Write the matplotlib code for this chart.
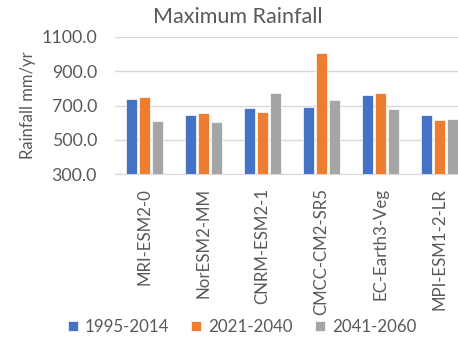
import matplotlib
matplotlib.use('Agg')
import matplotlib.pyplot as plt
import numpy as np

plt.rcParams['font.family'] = ['Lato', 'DejaVu Sans']

models = ['MRI-ESM2-0', 'NorESM2-MM', 'CNRM-ESM2-1', 'CMCC-CM2-SR5', 'EC-Earth3-Veg', 'MPI-ESM1-2-LR']
periods = ['1995-2014', '2021-2040', '2041-2060']
rain_1995_2014 = [735, 646, 688, 690, 760, 646]
rain_2021_2040 = [748, 654, 663, 1005, 775, 615]
rain_2041_2060 = [607, 605, 770, 731, 679, 621]
yticks = [300, 500, 700, 900, 1100]

colors = ['#4472C4', '#ED7D31', '#A5A5A5']
txt = '#595959'

fig = plt.figure(figsize=(4.58, 3.39), dpi=100)
# axes runs a bit past the right edge, like the cropped original
ax = fig.add_axes([115/458, (339-174.3)/339, 354/458, 137.6/339])

x = np.arange(len(models))
w = 0.178
step = 0.22
for i, (vals, c) in enumerate(zip([rain_1995_2014, rain_2021_2040, rain_2041_2060], colors)):
    ax.bar(x + (i-1)*step, np.array(vals) - 300, bottom=300, width=w, color=c,
           edgecolor='white', linewidth=0.5, label=periods[i], zorder=3)

ax.set_xlim(-0.5, len(models) - 0.5)
ax.set_ylim(300, 1100)
ax.set_yticks(yticks)
ax.set_yticklabels(['%.1f' % v for v in yticks], fontsize=12.8, color=txt)
ax.set_xticks(x)
ax.set_xticklabels(models, rotation=90, fontsize=12.2, color=txt, va='top', ha='center')
ax.tick_params(axis='y', length=0, pad=13)
ax.tick_params(axis='x', length=0, pad=10)
ax.grid(axis='y', color='#D9D9D9', linewidth=1, zorder=0)
for s in ['top', 'right', 'left']:
    ax.spines[s].set_visible(False)
ax.spines['bottom'].set_color('#D9D9D9')
ax.set_ylabel('Rainfall mm/yr', fontsize=12, color=txt, labelpad=4)

fig.text(238/458, 1 - 17/339, 'Maximum Rainfall', ha='center', va='center', fontsize=15.5, color=txt)

fig.legend(loc='center', bbox_to_anchor=(242/458, 1 - 327/339), ncol=3, frameon=False,
           fontsize=12.2, labelcolor=txt, handlelength=0.6, handleheight=0.6,
           handletextpad=0.4, columnspacing=1.3)

fig.savefig('out.png', dpi=100)
